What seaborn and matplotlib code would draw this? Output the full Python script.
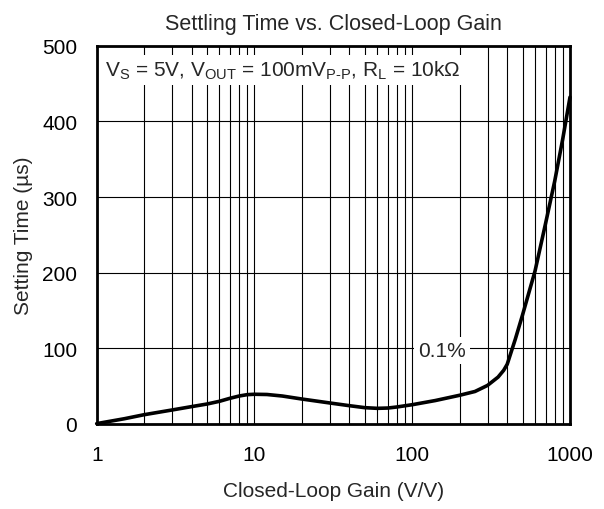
import matplotlib
matplotlib.use("Agg")
import matplotlib.pyplot as plt
import seaborn as sns
import numpy as np
import pandas as pd

# Data
gain = [1, 1.5, 2, 3, 4, 5, 6, 7, 8, 9, 10, 12, 15, 20, 30, 40, 50, 60, 70, 80,
        100, 140, 200, 250, 300, 350, 380, 400, 450, 500, 600, 700, 800, 900, 1000]
settling_us = [0.5, 7, 12.3, 18.5, 23, 26.4, 30, 34, 37, 38.8, 39.3, 39, 37, 33, 27.8,
               24.2, 21.6, 20.7, 21.1, 22.5, 25.5, 31, 38, 43, 51, 62, 71, 79, 112,
               144, 202, 265, 321, 377, 432]
x_ticks = [1, 10, 100, 1000]
x_tick_labels = ["1", "10", "100", "1000"]
y_ticks = [0, 100, 200, 300, 400, 500]

title = "Settling Time vs. Closed-Loop Gain"
x_label = "Closed-Loop Gain (V/V)"
y_label = "Setting Time (µs)"
cond_text = (r"V$_{\mathregular{S}}$ = 5V, V$_{\mathregular{OUT}}$ = 100mV$_{\mathregular{P\text{-}P}}$, "
             r"R$_{\mathregular{L}}$ = 10kΩ")
curve_label = "0.1%"

sns.set_style("white")
plt.rcParams["font.family"] = ["Liberation Sans", "DejaVu Sans"]
plt.rcParams["mathtext.fontset"] = "custom"
plt.rcParams["mathtext.rm"] = "Liberation Sans"
plt.rcParams["mathtext.it"] = "Liberation Sans"
plt.rcParams["mathtext.bf"] = "Liberation Sans"

df = pd.DataFrame({"gain": gain, "time": settling_us})

fig = plt.figure(figsize=(6.04, 5.10), dpi=100)
ax = fig.add_axes([96.7 / 604, 1 - 425 / 510, (570 - 96.7) / 604, (425 - 46.7) / 510])

sns.lineplot(data=df, x="gain", y="time", ax=ax, color="black", linewidth=2.6,
             zorder=5, clip_on=False)

ax.set_xscale("log")
ax.set_xlim(1, 1000)
ax.set_ylim(0, 500)
ax.set_xticks(x_ticks)
ax.set_xticklabels(x_tick_labels)
ax.xaxis.set_minor_formatter(matplotlib.ticker.NullFormatter())
ax.set_yticks(y_ticks)

ax.grid(True, which="both", axis="x", color="black", linewidth=0.8)
ax.grid(True, which="major", axis="y", color="black", linewidth=0.8)
ax.set_axisbelow(True)

ax.tick_params(axis="both", which="both", length=0, pad=14, labelsize=15, colors="black")
ax.tick_params(axis="x", pad=15)
for s in ax.spines.values():
    s.set_visible(True)
    s.set_color("black")
    s.set_linewidth(2.0)

ax.set_title(title, fontsize=15.5, pad=12)
ax.set_xlabel(x_label, fontsize=15)
ax.set_ylabel(y_label, fontsize=15)
ax.xaxis.set_label_coords(0.5, -0.15)
ax.yaxis.set_label_coords(-0.135, 0.5)

ax.text(0.017, 0.92, cond_text, transform=ax.transAxes, fontsize=15,
        ha="left", va="baseline", zorder=6,
        bbox=dict(facecolor="white", edgecolor="none", pad=3))
ax.text(154, 97, curve_label, fontsize=15, ha="center", va="center", zorder=6,
        bbox=dict(facecolor="white", edgecolor="none", pad=3))

fig.savefig("out.png", dpi=100)
